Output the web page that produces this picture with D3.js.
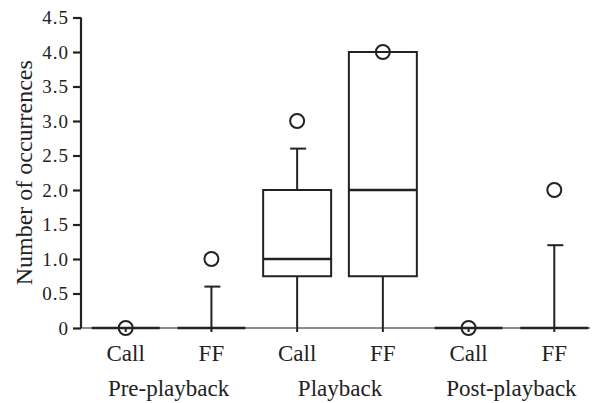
<!DOCTYPE html>
<html>
<head>
<meta charset="utf-8">
<script src="https://cdn.jsdelivr.net/npm/d3@7"></script>
<style>
  body { margin: 0; background: #fff; }
  text { font-family: "Liberation Serif", "DejaVu Serif", serif; fill: #222; }
</style>
</head>
<body>
<svg id="chart"></svg>
<script>
const width = 597;
const height = 403;

// categories, in drawing order
const periods = ["Pre-playback", "Playback", "Post-playback"];
const signals = ["Call", "FF"];

// box statistics per category (number of occurrences)
const q1Values     = [0, 0, 0.75, 0.75, 0, 0];
const medianValues = [0, 0, 1.0,  2.0,  0, 0];
const q3Values     = [0, 0, 2.0,  4.0,  0, 0];
const whiskerLow   = [0, 0, 0,    0,    0, 0];
const whiskerHigh  = [0, 0.6, 2.6, 4.0, 0, 1.2];
const outliers     = [0, 1.0, 3.0, 4.0, 0, 2.0];

const yTicks = [0, 0.5, 1.0, 1.5, 2.0, 2.5, 3.0, 3.5, 4.0, 4.5];

const margin = {top: 17.5, right: 7, bottom: 75, left: 81};

const svg = d3.select('#chart')
    .attr('width', width)
    .attr('height', height);

const keys = [];
periods.forEach(p => signals.forEach(s => keys.push(p + "|" + s)));

const x = d3.scaleBand()
    .domain(keys)
    .range([margin.left, 599])
    .paddingInner(0.207)
    .paddingOuter(0.125);

const y = d3.scaleLinear()
    .domain([0, 4.5])
    .range([height - margin.bottom, margin.top]);

const boxes = keys.map((k, i) => ({
    key: k,
    signal: k.split("|")[1],
    q1: q1Values[i], med: medianValues[i], q3: q3Values[i],
    lo: whiskerLow[i], hi: whiskerHigh[i], out: outliers[i]
}));

// x axis baseline (thin)
svg.append("line")
    .attr("x1", margin.left).attr("x2", width - margin.right)
    .attr("y1", y(0)).attr("y2", y(0))
    .attr("stroke", "#666").attr("stroke-width", 1.5);

// y axis
const yAxis = svg.append("g")
    .attr("transform", "translate(" + margin.left + ",0)")
    .call(d3.axisLeft(y).tickValues(yTicks).tickSize(8).tickPadding(4)
        .tickFormat(d => d === 0 ? "0" : d3.format(".1f")(d)));
yAxis.select(".domain").attr("stroke", "#222").attr("stroke-width", 2.2)
    .attr("d", "M0," + y(4.5) + "V" + y(0));
yAxis.selectAll(".tick line").attr("stroke", "#222").attr("stroke-width", 2.2);
yAxis.selectAll(".tick text")
    .style("font-size", "19px")
    .style("letter-spacing", "1px")
    .attr("fill", "#222");

// x ticks and labels
const bw = x.bandwidth();
const g = svg.append("g").selectAll(".box")
    .data(boxes)
    .enter().append("g")
    .attr("class", "box")
    .attr("transform", d => "translate(" + (x(d.key) + bw / 2) + ",0)");

g.append("line")
    .attr("x1", 0).attr("x2", 0)
    .attr("y1", y(0)).attr("y2", y(0) + 4)
    .attr("stroke", "#222").attr("stroke-width", 2);

g.append("text")
    .attr("x", 0).attr("y", y(0) + 33)
    .attr("text-anchor", "middle")
    .style("font-size", "23px")
    .text(d => d.signal);

// whiskers
g.append("line")
    .attr("x1", 0).attr("x2", 0)
    .attr("y1", d => y(d.q3)).attr("y2", d => y(d.hi))
    .attr("stroke", "#222").attr("stroke-width", 2);
g.append("line")
    .attr("x1", 0).attr("x2", 0)
    .attr("y1", d => y(d.q1)).attr("y2", d => y(d.lo))
    .attr("stroke", "#222").attr("stroke-width", 2);
g.filter(d => d.hi > d.q3).append("line")
    .attr("x1", -7).attr("x2", 9)
    .attr("y1", d => y(d.hi)).attr("y2", d => y(d.hi))
    .attr("stroke", "#222").attr("stroke-width", 2);

// boxes
g.append("rect")
    .attr("x", -bw / 2).attr("width", bw)
    .attr("y", d => y(d.q3))
    .attr("height", d => y(d.q1) - y(d.q3))
    .attr("fill", "none")
    .attr("stroke", "#222").attr("stroke-width", 2);
g.append("line")
    .attr("x1", -bw / 2).attr("x2", bw / 2)
    .attr("y1", d => y(d.med)).attr("y2", d => y(d.med))
    .attr("stroke", "#222").attr("stroke-width", 2.5);

// outliers
g.append("circle")
    .attr("cx", 0).attr("cy", d => y(d.out))
    .attr("r", 7)
    .attr("fill", "none")
    .attr("stroke", "#222").attr("stroke-width", 2);

// group labels
svg.append("g").selectAll(".period")
    .data(periods)
    .enter().append("text")
    .attr("class", "period")
    .attr("x", p => (x(p + "|Call") + x(p + "|FF") + bw) / 2)
    .attr("y", y(0) + 68)
    .attr("text-anchor", "middle")
    .style("font-size", "23px")
    .text(p => p);

// y axis title
svg.append("text")
    .attr("transform", "translate(32," + (y(0) + y(4.5)) / 2 + ") rotate(-90)")
    .attr("text-anchor", "middle")
    .style("font-size", "24px")
    .text("Number of occurrences");
</script>
</body>
</html>
